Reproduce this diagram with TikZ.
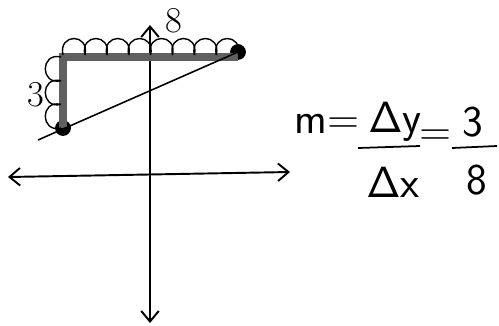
\documentclass[tikz,border=0pt]{standalone}
\usepackage{amsmath}
\usepackage{tikz}
\usetikzlibrary{arrows.meta}

\begin{document}
\begin{tikzpicture}[x=0.02cm,y=-0.02cm,
    axis/.style={line width=1.1pt,{Straight Barb[length=6pt,width=10pt]}-{Straight Barb[length=6pt,width=10pt]}},
    leg/.style={line width=4pt,gray!75!black},
    bump/.style={line width=0.8pt},
    dot/.style={circle,fill=black,inner sep=0pt,minimum size=9pt},
    hand/.style={font=\sffamily\fontsize{25}{27}\selectfont,inner sep=0pt}]
  \useasboundingbox (0,0) rectangle (499,325);
  % axes
  \coordinate (ytop) at (150,25);
  \coordinate (ybot) at (150,323);
  \coordinate (xleft) at (8,177);
  \coordinate (xright) at (290,172);
  \draw[axis] (xleft) -- (xright);
  \draw[axis] (ybot) -- (ytop);
  % rise and run legs
  \coordinate (corner) at (63,57);
  \node[dot] (lo) at (63,128) {};
  \node[dot] (hi) at (238,52) {};
  \coordinate (tail) at (38,140);
  \draw[leg] (lo.center) -- (corner) -- (hi.center |- corner);
  \draw[line width=0.9pt] (tail) -- (hi.center);
  % counting loops
  \foreach \i in {0,...,7}
    \draw[bump] ({63+\i*21.9},55) .. controls ({58+\i*21.9},33) and ({89.9+\i*21.9},33) .. ({84.9+\i*21.9},55);
  \foreach \j in {0,...,2}
    \draw[bump] (61,{57+\j*23.7}) .. controls (40,{52+\j*23.7}) and (40,{85.7+\j*23.7}) .. (61,{80.7+\j*23.7});
  \node[font=\huge] (run) at (174,21) {8};
  \node[font=\huge] (rise) at (36,95) {3};
  % slope formula
  \node[hand] (m) at (327,124) {m=};
  \node[hand] (dy) at (395,122) {$\mathsf{\Delta}$y};
  \node[hand] (dx) at (393,182) {$\mathsf{\Delta}$x};
  \draw[line width=1pt] (358,148) -- (420,146);
  \node[hand] (eq) at (436,138) {=};
  \node[hand] (num) at (473,122) {3};
  \node[hand] (den) at (477,180) {8};
  \draw[line width=1pt] (452,148) -- (497,146);
\end{tikzpicture}
\end{document}
